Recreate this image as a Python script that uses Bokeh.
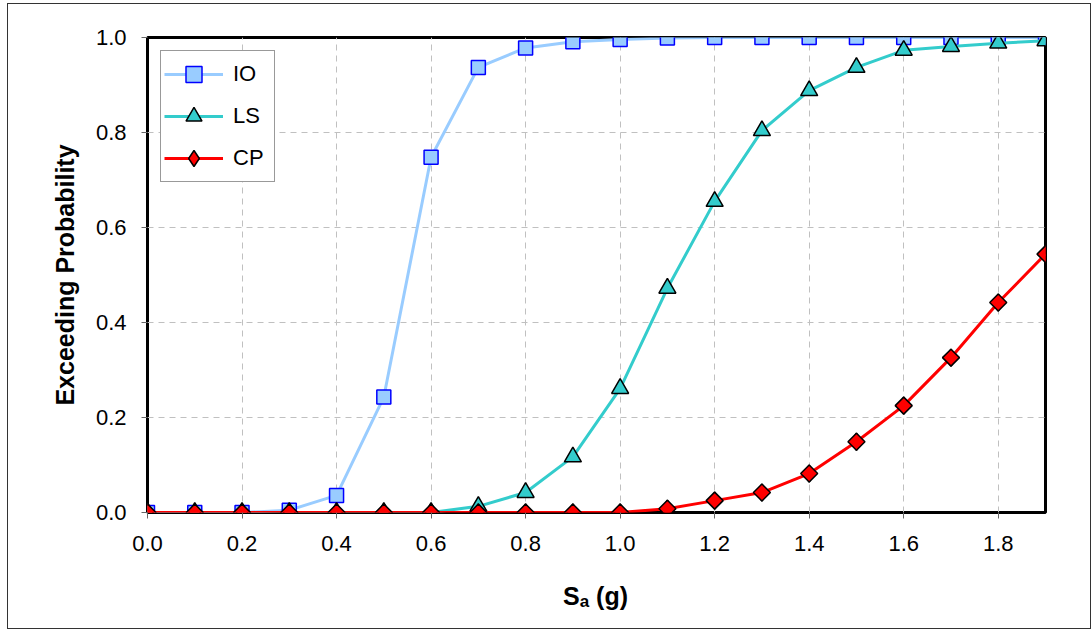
import math
from bokeh.plotting import figure
from bokeh.layouts import column
from bokeh.models import Legend, LegendItem, FixedTicker, Range1d, Div, ColumnDataSource
from bokeh.embed import file_html
from bokeh.resources import INLINE

sa = [0.0, 0.1, 0.2, 0.3, 0.4, 0.5, 0.6, 0.7, 0.8, 0.9, 1.0, 1.1, 1.2, 1.3, 1.4, 1.5, 1.6, 1.7, 1.8, 1.9]
io = [0.0, 0.0, 0.0, 0.005, 0.036, 0.243, 0.748, 0.937, 0.978, 0.991, 0.996, 0.999, 1.0, 1.0, 1.0, 1.0, 1.0, 1.0, 1.0, 1.0]
ls = [0.0, 0.0, 0.0, 0.0, 0.0, 0.0, 0.0, 0.013, 0.042, 0.117, 0.261, 0.472, 0.655, 0.804, 0.888, 0.937, 0.973, 0.981, 0.988, 0.993]
cp = [0.0, 0.0, 0.0, 0.0, 0.0, 0.0, 0.0, 0.0, 0.0, 0.0, 0.0, 0.008, 0.025, 0.042, 0.082, 0.149, 0.225, 0.326, 0.442, 0.544]
x_ticks = [0.0, 0.2, 0.4, 0.6, 0.8, 1.0, 1.2, 1.4, 1.6, 1.8]
y_ticks = [0.0, 0.2, 0.4, 0.6, 0.8, 1.0]
x_title_main = "S"
x_title_sub = "a"
x_title_unit = "(g)"
y_title = "Exceeding Probability"

FONT = "Liberation Sans"

p = figure(width=1082, height=571, output_backend="svg", toolbar_location=None,
           x_range=Range1d(0.0, 1.9), y_range=Range1d(0.0, 1.0),
           min_border_left=139, min_border_top=33, min_border_right=45, min_border_bottom=63)
p.outline_line_color = "black"
p.outline_line_width = 3
p.background_fill_color = "white"
p.border_fill_color = "white"

for ax in (p.xaxis, p.yaxis):
    ax.axis_line_color = None
    ax.major_tick_line_color = "#666666"
    ax.major_tick_out = 6
    ax.major_tick_in = 0
    ax.minor_tick_line_color = None
    ax.major_label_text_font = FONT
    ax.major_label_text_font_size = "22px"
    ax.major_label_text_color = "black"
p.xaxis.ticker = FixedTicker(ticks=x_ticks)
p.yaxis.ticker = FixedTicker(ticks=y_ticks)
p.xaxis.major_label_overrides = {t: f"{t:.1f}" for t in x_ticks}
p.yaxis.major_label_overrides = {t: f"{t:.1f}" for t in y_ticks}
p.xaxis.major_label_standoff = 17
p.yaxis.major_label_standoff = 15

p.yaxis.axis_label = y_title
p.yaxis.axis_label_text_font = FONT
p.yaxis.axis_label_text_font_size = "25px"
p.yaxis.axis_label_text_font_style = "bold"
p.yaxis.axis_label_text_color = "black"
p.yaxis.axis_label_standoff = 14

for g in (p.xgrid, p.ygrid):
    g.grid_line_color = "#c0c0c0"
    g.grid_line_dash = "6 5"
    g.grid_line_width = 1

src = ColumnDataSource(dict(sa=sa, io=io, ls=ls, cp=cp))

r_io_l = p.line("sa", "io", source=src, line_color="#99ccff", line_width=3)
r_io_m = p.scatter("sa", "io", source=src, marker="square", size=14, fill_color="#99ccff",
                   line_color="#0000ff", line_width=1.5)
r_ls_l = p.line("sa", "ls", source=src, line_color="#33cccc", line_width=3)
r_ls_m = p.scatter("sa", "ls", source=src, marker="triangle", size=17, fill_color="#33cccc",
                   line_color="black", line_width=1.5)
r_cp_l = p.line("sa", "cp", source=src, line_color="#ff0000", line_width=3)
# diamond used for the legend swatch; it lies fully under the rotated squares drawn next
r_cp_key = p.scatter("sa", "cp", source=src, marker="diamond", size=17, fill_color="#ff0000",
                     line_color="black", line_width=1.5)
r_cp_m = p.scatter("sa", "cp", source=src, marker="square", angle=math.pi / 4, size=12,
                   fill_color="#ff0000", line_color="black", line_width=1.5)

legend = Legend(items=[
    LegendItem(label="IO", renderers=[r_io_l, r_io_m]),
    LegendItem(label="LS", renderers=[r_ls_l, r_ls_m]),
    LegendItem(label="CP", renderers=[r_cp_l, r_cp_key]),
], location="top_left")
legend.margin = 13
legend.padding = 3
legend.spacing = 2
legend.glyph_width = 59
legend.glyph_height = 40
legend.label_standoff = 10
legend.label_width = 38
legend.label_text_font = FONT
legend.label_text_font_size = "22px"
legend.label_text_color = "black"
legend.border_line_color = "#333333"
legend.border_line_width = 1
legend.background_fill_alpha = 1
p.add_layout(legend)

title_html = (
    f'<div style="padding-left:555px; padding-top:9px; '
    f"font-family:'{FONT}'; font-weight:bold; font-size:25px; line-height:25px; "
    f'color:black; white-space:nowrap;">'
    f'{x_title_main}<span style="font-size:17px; position:relative; top:2px;">{x_title_sub}</span>'
    f' {x_title_unit}</div>'
)
xlabel = Div(text=title_html, width=1082, height=53, margin=0,
             styles={"background-color": "white"})

layout = column(p, xlabel, spacing=0, margin=(3, 0, 0, 7),
                styles={"border": "1px solid #333333", "background-color": "white"})

open("out.html", "w").write(file_html(layout, INLINE))
